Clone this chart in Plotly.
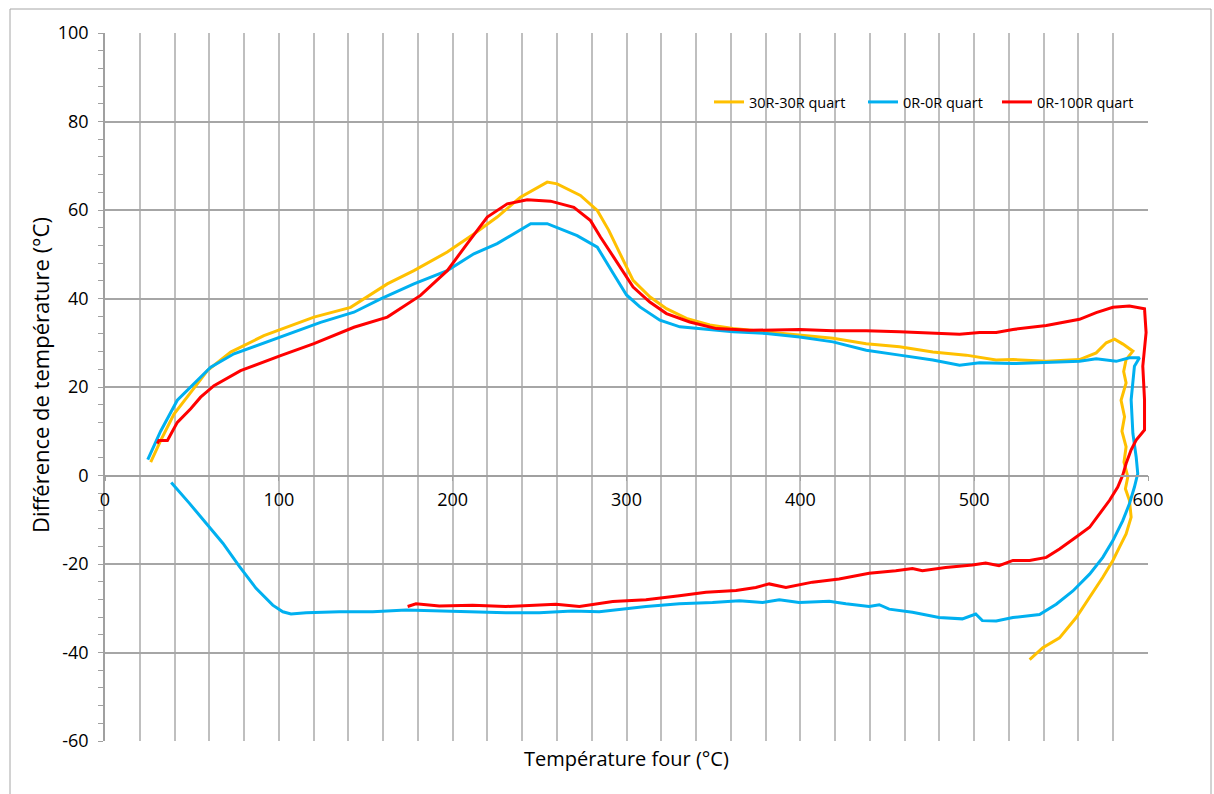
import plotly.graph_objects as go

# ---- data ----
series_names = ["30R-30R quart", "0R-0R quart", "0R-100R quart"]
series_colors = ["#FFC000", "#00B0F0", "#FF0000"]

yellow_x = [26.3, 32, 39.7, 47.4, 53.1, 58.9, 72.3, 91.4, 120.2, 141.3, 148.9, 162.4, 177.7, 196.9, 212.2,
            225.6, 239.0, 254.4, 260.1, 273.5, 283.2, 289.8, 296.2, 303.8, 313.4, 323, 334.5, 347.9, 361.3,
            380.5, 399.6, 418.8, 437.9, 457.1, 476.2, 495.4, 512.6, 522.3, 541.5, 560.6, 570.2, 576, 580.8,
            585.6, 591.3, 587.4, 586.0, 587.4, 584.5, 586.5, 585.0, 587.4, 586.2, 588.4, 587.0, 589.3, 590.3,
            587.4, 583.6, 579.8, 574.0, 566.4, 558.7, 549.1, 539.5, 531.9]
yellow_y = [3.0, 7.9, 13.9, 17.7, 20.7, 23.7, 27.9, 31.6, 35.8, 38.0, 39.9, 43.3, 46.3, 50.5, 54.6,
            58.4, 62.9, 66.3, 65.9, 63.3, 59.9, 55.4, 50.2, 44.1, 40.4, 37.7, 35.5, 34.0, 33.2,
            32.5, 31.7, 31.0, 29.8, 29.1, 27.9, 27.2, 26.1, 26.2, 25.8, 26.2, 27.7, 30.0, 30.8,
            29.7, 28.1, 26.2, 23.5, 20.9, 17.0, 13.3, 10.0, 6.5, 3.0, -0.3, -3.0, -5.6, -9.4,
            -13.2, -16.2, -19.2, -23.0, -27.6, -32.1, -36.7, -38.9, -41.6]

blue_x = [24.6, 32, 41.6, 53, 60.8, 74.2, 101.0, 124.0, 143.2, 158.6, 177.7, 196.9, 212.2, 225.6, 244.9,
          254.4, 271.6, 283.2, 292.3, 300, 307.7, 319.2, 330.7, 342.1, 361.3, 380.5, 399.6, 418.8, 437.9,
          457.1, 476.2, 491.6, 503.1, 522.3, 541.5, 560.6, 570.2, 581.7, 589.3, 595.1,
          592.2, 590.3, 591.3, 593.2, 594.1, 592.2, 589.3, 585.5, 579.8, 574.0, 566.4, 556.8, 547.2, 537.6,
          522.3, 512.7, 504.7, 500.9, 493.2, 479.8, 464.5, 451.1, 445.4, 439.6, 426.2, 416.6, 399.3, 387.9,
          378.3, 364.9, 349.5, 330.4, 311.2, 292.1, 284.3, 268.9, 249.8, 230.6, 211.5, 192.3, 173.2, 154,
          134.8, 115.7, 107.0, 102.3, 96.5, 86.9, 77.4, 67.8, 60.1, 48.6, 38.1]
blue_y = [3.6, 10, 17, 21.5, 24.5, 27.5, 31.3, 34.6, 36.9, 39.9, 43.3, 46.3, 50.1, 52.4, 56.9,
          56.9, 54.2, 51.6, 45.7, 40.8, 38.1, 35.1, 33.6, 33.2, 32.5, 32.1, 31.3, 30.2, 28.3,
          27.2, 26.1, 24.9, 25.5, 25.3, 25.6, 25.8, 26.4, 25.8, 26.6, 26.6,
          24.7, 17.1, 9.5, 4.2, 0.4, -2.6, -6.4, -10.2, -14.7, -18.5, -22.3, -26.1, -29.1, -31.4,
          -32.1, -32.9, -32.8, -31.3, -32.4, -32.1, -30.9, -30.2, -29.2, -29.6, -29.0, -28.4, -28.7, -28.1,
          -28.7, -28.3, -28.7, -29.0, -29.6, -30.4, -30.8, -30.6, -31.0, -31.0, -30.8, -30.6, -30.4, -30.8,
          -30.8, -31.0, -31.3, -30.8, -29.3, -25.5, -20.6, -15.3, -11.6, -6.3, -1.6]

red_x = [30.1, 31, 35.9, 41.6, 49.3, 55, 62.7, 78.0, 101.0, 120.2, 143.2, 162.4, 181.5, 196.9, 208.4,
         219.9, 231.4, 242.9, 256.3, 269.7, 279.3, 285.0, 292.7, 303.8, 313.4, 323, 336.4, 351.7, 370.9,
         399.6, 418.8, 437.9, 457.1, 476.2, 491.6, 503.1, 512.7, 522.3, 541.5, 560.6, 570.2, 579.8, 589.3,
         598, 598.9, 597, 598, 598, 593.2, 590.3, 587.4, 585.5, 582.6, 577.9, 572.1, 566.4, 558.7, 549.1,
         541.5, 531.9, 522.3, 514.3, 506.6, 499, 483.6, 470.2, 464.5, 454.9, 439.6, 422.3, 407, 391.7,
         382.1, 374.4, 363, 345.7, 330.4, 311.2, 292.1, 282.5, 272.9, 259.4, 230.6, 211.5, 192.3, 178.9,
         174.1]
red_y = [7.2, 7.9, 7.9, 12, 15.1, 17.7, 20.3, 23.7, 27.1, 29.8, 33.5, 35.8, 40.7, 46.3, 52.4,
         58.4, 61.4, 62.3, 62.0, 60.6, 57.6, 53.9, 49.3, 42.6, 39.2, 36.6, 34.7, 33.2, 32.8,
         33.0, 32.7, 32.7, 32.5, 32.2, 31.9, 32.3, 32.3, 33.0, 33.9, 35.3, 36.8, 38.0, 38.3,
         37.7, 32.3, 24.7, 17.1, 10.3, 8.0, 5.8, 2.7, 0.1, -2.6, -5.6, -8.6, -11.7, -13.9, -16.6,
         -18.5, -19.2, -19.2, -20.4, -19.8, -20.2, -20.8, -21.5, -21.0, -21.5, -22.1, -23.4, -24.1, -25.3,
         -24.5, -25.3, -26.0, -26.4, -27.2, -28.1, -28.5, -29.0, -29.6, -29.1, -29.6, -29.3, -29.5, -29.0,
         -29.6]

x_ticks = [0, 100, 200, 300, 400, 500, 600]
y_ticks = [-60, -40, -20, 0, 20, 40, 60, 80, 100]
y_ticktext = ["-60", "-40", "-20", "0", "20", "40", "60", "80", "100"]

FONT = "Open Sans"

W, H = 1214, 794
L, R, T, B = 105, 66, 33, 53
pw, ph = W - L - R, H - T - B

def px2paper_x(p):
    return (p - L) / pw

def px2paper_y(p):
    return (H - B - p) / ph

legend_ids = ["legend", "legend2", "legend3"]
legend_px = [709, 863, 997]

fig = go.Figure()
for name, color, xs, ys, lid in zip(series_names, series_colors,
                                     [yellow_x, blue_x, red_x], [yellow_y, blue_y, red_y], legend_ids):
    fig.add_trace(go.Scatter(x=xs, y=ys, mode="lines", name=name, legend=lid,
                             line=dict(color=color, width=3)))

legend_common = dict(orientation="h", xanchor="left", y=px2paper_y(102), yanchor="middle",
                     bgcolor="rgba(0,0,0,0)", font=dict(size=14.5, family=FONT),
                     itemwidth=30)

fig.update_layout(
    width=W, height=H,
    margin=dict(l=L, r=R, t=T, b=B, autoexpand=False),
    paper_bgcolor="white", plot_bgcolor="white",
    font=dict(family=FONT, color="#000000", size=18),
    showlegend=True,
    legend=dict(x=px2paper_x(legend_px[0]), **legend_common),
    legend2=dict(x=px2paper_x(legend_px[1]), **legend_common),
    legend3=dict(x=px2paper_x(legend_px[2]), **legend_common),
    xaxis=dict(range=[0, 600], tickvals=x_ticks, ticks="outside", ticklen=5,
               tickcolor="#a0a0a0", showline=True, linecolor="#a0a0a0", linewidth=1.5,
               showgrid=True, gridcolor="#bfbfbf", gridwidth=1.5,
               minor=dict(dtick=20, showgrid=True, gridcolor="#bfbfbf", gridwidth=1.5, ticks=""),
               anchor="free", position=60/160, zeroline=False,
               tickfont=dict(size=18), ticklabelstandoff=3),
    yaxis=dict(range=[-60, 100], tickvals=y_ticks, ticktext=y_ticktext, ticks="outside", ticklen=5,
               tickcolor="#a0a0a0", showline=True, linecolor="#a0a0a0", linewidth=1.5,
               showgrid=True, gridcolor="#a6a6a6", gridwidth=1.5, zeroline=False,
               minor=dict(dtick=4, ticks="outside", ticklen=5, tickcolor="#a0a0a0", showgrid=False),
               tickfont=dict(size=18), ticklabelstandoff=6),
    annotations=[dict(text="Température four (°C)", xref="paper", yref="paper",
                      x=0.5, y=px2paper_y(758), xanchor="center", yanchor="middle",
                      showarrow=False, font=dict(size=20, family=FONT)),
                 dict(text="Différence de température (°C)", xref="paper", yref="paper",
                      x=px2paper_x(40), y=px2paper_y(375), xanchor="center", yanchor="middle",
                      textangle=-90, showarrow=False, font=dict(size=22, family=FONT))],
    shapes=[dict(type="rect", xref="paper", yref="paper",
                 x0=px2paper_x(10), x1=px2paper_x(1211), y0=px2paper_y(805), y1=px2paper_y(9),
                 line=dict(color="#a6a6a6", width=1), layer="below")],
)

fig.write_html("out.html")
